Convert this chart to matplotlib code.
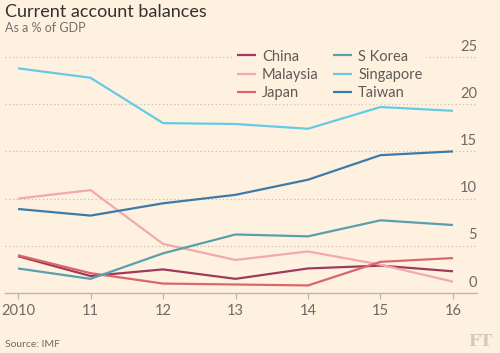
import matplotlib
matplotlib.use("Agg")
import matplotlib.pyplot as plt

plt.rcParams['font.family'] = ['Lato', 'DejaVu Sans']

years = [2010, 2011, 2012, 2013, 2014, 2015, 2016]
year_labels = ['2010', '11', '12', '13', '14', '15', '16']

china = [3.9, 1.8, 2.5, 1.5, 2.6, 2.9, 2.3]
malaysia = [10.0, 10.9, 5.2, 3.5, 4.4, 3.0, 1.2]
japan = [4.0, 2.1, 1.0, 0.9, 0.8, 3.3, 3.7]
s_korea = [2.6, 1.5, 4.2, 6.2, 6.0, 7.7, 7.2]
singapore = [23.8, 22.8, 18.0, 17.9, 17.4, 19.7, 19.3]
taiwan = [8.9, 8.2, 9.5, 10.4, 12.0, 14.6, 15.0]

yticks = [0, 5, 10, 15, 20, 25]

bg = '#fff1e0'
series = [
    ('China', china, '#9e3a5c'),
    ('Malaysia', malaysia, '#f2a9ab'),
    ('Japan', japan, '#d9666c'),
    ('S Korea', s_korea, '#5a9fad'),
    ('Singapore', singapore, '#66cae6'),
    ('Taiwan', taiwan, '#3d7aab'),
]

fig = plt.figure(figsize=(5, 3.53), dpi=100, facecolor=bg)
ax = fig.add_axes([5/500, 1-293/353, 472/500, 236/353])
ax.set_facecolor(bg)

# dotted gridlines, labels sit on top of them at the right
for v in yticks[1:]:
    ax.axhline(v, color='#c9beb4', lw=0.9, ls=(0, (1, 2)), zorder=1, clip_on=False)
for v in yticks:
    ax.text(1.0, v + 0.35, str(v), transform=ax.get_yaxis_transform(),
            ha='right', va='bottom', fontsize=10.5, color='#6f6a66')

for name, vals, col in series:
    ax.plot(years, vals, color=col, lw=1.6, label=name, zorder=3, solid_capstyle='butt')

ax.set_xlim(2010 - 13/72.5, 2016 + 24/72.5)
ax.set_ylim(0, 25)
ax.set_xticks(years)
ax.set_xticklabels(year_labels)
ax.set_yticks([])
for s in ['top', 'right', 'left']:
    ax.spines[s].set_visible(False)
ax.spines['bottom'].set_color('#bfb6ad')
ax.spines['bottom'].set_linewidth(1.0)
ax.tick_params(axis='x', length=4, width=0.9, color='#bfb6ad', labelsize=10.5,
               labelcolor='#6f6a66', pad=4)

leg = ax.legend(ncol=2, loc='upper left', bbox_to_anchor=(222/472, 1.075),
                frameon=True, facecolor=bg, edgecolor=bg, framealpha=1,
                fontsize=10.5, handlelength=1.3, handletextpad=0.4,
                columnspacing=1.0, labelspacing=0.3, borderpad=0.2)
for t in leg.get_texts():
    t.set_color('#5f5a56')
leg.set_zorder(5)

fig.text(5/500, 1-17/353, 'Current account balances', fontsize=13, color='#33302e',
         ha='left', va='baseline')
fig.text(5/500, 1-32/353, 'As a % of GDP', fontsize=9, color='#76706b',
         ha='left', va='baseline')
fig.text(5/500, 1-347/353, 'Source: IMF', fontsize=7.5, color='#6f6a66',
         ha='left', va='baseline')
fig.text(492/500, 1-346/353, 'FT', fontsize=12, color='#d2c9c0', ha='right',
         va='baseline', family='DejaVu Serif', weight='bold')

fig.savefig('out.png', dpi=100, facecolor=bg)
